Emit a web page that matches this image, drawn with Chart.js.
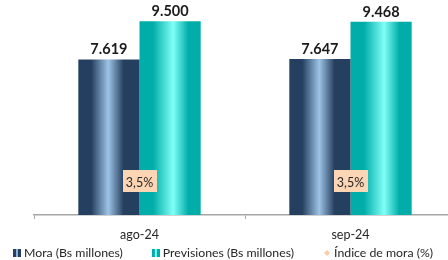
<!DOCTYPE html>
<html>
<head>
<meta charset="utf-8">
<script src="https://cdn.jsdelivr.net/npm/chart.js@4.4.1/dist/chart.umd.min.js"></script>
<style>
  html, body { margin: 0; padding: 0; background: #fff; overflow: hidden; }
  #wrap { width: 448px; height: 260px; overflow: hidden; }
</style>
</head>
<body>
<div id="wrap"><canvas id="chart" width="460" height="260"></canvas></div>
<script>
'use strict'

const categories = ['ago-24', 'sep-24'];
const mora = [7619, 7647];
const previsiones = [9500, 9468];
const indiceMora = [3.5, 3.5];

const seriesNames = ['Mora (Bs millones)', 'Previsiones (Bs millones)', 'Índice de mora (%)'];

const FONT = 'Lato, "Open Sans", sans-serif';
const CAT_PCT = 0.58;

// format 7619 -> 7.619
function fmtThousands(v) {
    return String(Math.round(v)).replace(/\B(?=(\d{3})+(?!\d))/g, '.');
}
function fmtPct(v) {
    return v.toFixed(1).replace('.', ',') + '%';
}

const moraStops = [[0, '#243F60'], [0.21, '#243F60'], [0.49, '#9DC3E6'], [0.74, '#263F5F'], [1, '#243F60']];
const prevStops = [[0, '#00ADA8'], [0.22, '#00ADA8'], [0.55, '#80FFF7'], [0.8, '#00ADA8'], [1, '#00ADA8']];

// horizontal gradient across a single bar
function barFill(stops, side, solid) {
    return function (c) {
        const chart = c.chart;
        const x = chart.scales && chart.scales.x;
        if (!x || !chart.chartArea || c.dataIndex === undefined) return solid;
        const center = x.getPixelForValue(c.dataIndex);
        const catW = x.getPixelForValue(1) - x.getPixelForValue(0);
        const barW = catW * CAT_PCT / 2;
        const left = side === 0 ? center - barW : center;
        const g = chart.ctx.createLinearGradient(left, 0, left + barW, 0);
        stops.forEach(s => g.addColorStop(s[0], s[1]));
        return g;
    };
}

// little legend markers
function stripeMarker(dark, light) {
    const cv = document.createElement('canvas');
    cv.width = 8; cv.height = 8;
    const g = cv.getContext('2d');
    g.fillStyle = dark;
    g.fillRect(0, 0, 8, 8);
    g.fillStyle = light;
    g.fillRect(3, 0, 2, 8);
    return cv;
}
function diamondMarker() {
    const cv = document.createElement('canvas');
    cv.width = 6; cv.height = 6;
    const g = cv.getContext('2d');
    g.fillStyle = '#F9CFA6';
    g.beginPath();
    g.moveTo(3, 0); g.lineTo(6, 3); g.lineTo(3, 6); g.lineTo(0, 3);
    g.closePath();
    g.fill();
    return cv;
}

const valueLabels = {
    id: 'valueLabels',
    afterDatasetsDraw(chart) {
        const ctx = chart.ctx;
        ctx.save();
        [0, 1].forEach(di => {
            const meta = chart.getDatasetMeta(di);
            meta.data.forEach((bar, i) => {
                ctx.font = 'bold 14.5px ' + FONT;
                ctx.fillStyle = '#1a1a1a';
                ctx.textAlign = 'center';
                ctx.textBaseline = 'middle';
                ctx.fillText(fmtThousands(chart.data.datasets[di].data[i]), bar.x, bar.y - 10);
            });
        });
        const lm = chart.getDatasetMeta(2);
        lm.data.forEach((pt, i) => {
            const txt = fmtPct(chart.data.datasets[2].data[i]);
            ctx.font = '12.5px ' + FONT;
            const w = 34, h = 22;
            ctx.fillStyle = '#FCD5B4';
            ctx.fillRect(Math.round(pt.x - w / 2), Math.round(pt.y - h / 2), w, h);
            ctx.fillStyle = '#262626';
            ctx.textAlign = 'center';
            ctx.textBaseline = 'middle';
            ctx.fillText(txt, pt.x, pt.y + 1);
        });
        ctx.restore();
    }
};

// legend drawn along the bottom, left aligned
const bottomLegend = {
    id: 'bottomLegend',
    afterDraw(chart) {
        const ctx = chart.ctx;
        ctx.save();
        ctx.font = '12.3px ' + FONT;
        ctx.textBaseline = 'middle';
        ctx.textAlign = 'left';
        ctx.fillStyle = '#262626';
        const y = 253;
        let x = 13;
        chart.data.datasets.forEach(ds => {
            const m = ds.pointStyle;
            const mw = m.width;
            ctx.drawImage(m, x + (8 - mw) / 2, Math.round(y - m.height / 2));
            const tx = x + 8 + 3;
            ctx.fillText(ds.label, tx, y);
            x = tx + ctx.measureText(ds.label).width + 29;
        });
        ctx.restore();
    }
};

const chart = new Chart(document.getElementById('chart'), {
    type: 'bar',
    data: {
        labels: categories,
        datasets: [
            {
                label: seriesNames[0],
                data: mora,
                backgroundColor: barFill(moraStops, 0, '#243F60'),
                pointStyle: stripeMarker('#243F60', '#8FB2D6'),
                categoryPercentage: CAT_PCT,
                barPercentage: 1,
                order: 2
            },
            {
                label: seriesNames[1],
                data: previsiones,
                backgroundColor: barFill(prevStops, 1, '#00ADA8'),
                pointStyle: stripeMarker('#00ADA8', '#80FFF7'),
                categoryPercentage: CAT_PCT,
                barPercentage: 1,
                order: 2
            },
            {
                type: 'line',
                label: seriesNames[2],
                data: indiceMora,
                yAxisID: 'y2',
                showLine: false,
                pointRadius: 0,
                pointStyle: diamondMarker(),
                backgroundColor: '#F9CFA6',
                borderColor: '#F9CFA6',
                order: 1
            }
        ]
    },
    options: {
        responsive: false,
        animation: false,
        devicePixelRatio: 1,
        layout: { padding: { top: 11, left: 34, right: 4, bottom: 0 } },
        plugins: {
            legend: { display: false },
            tooltip: { enabled: false }
        },
        scales: {
            x: {
                grid: {
                    offset: true,
                    drawOnChartArea: false,
                    tickLength: 4,
                    color: '#A6A6A6'
                },
                border: { color: '#A6A6A6', width: 1.5 },
                ticks: { font: { family: FONT, size: 12.5 }, color: '#262626', padding: 8 },
                afterFit: s => { s.height = 45; }
            },
            y: { display: false, min: 0, max: 10000 },
            y2: { display: false, min: 0, max: 21.3 }
        }
    },
    plugins: [valueLabels, bottomLegend]
});
</script>
</body>
</html>
